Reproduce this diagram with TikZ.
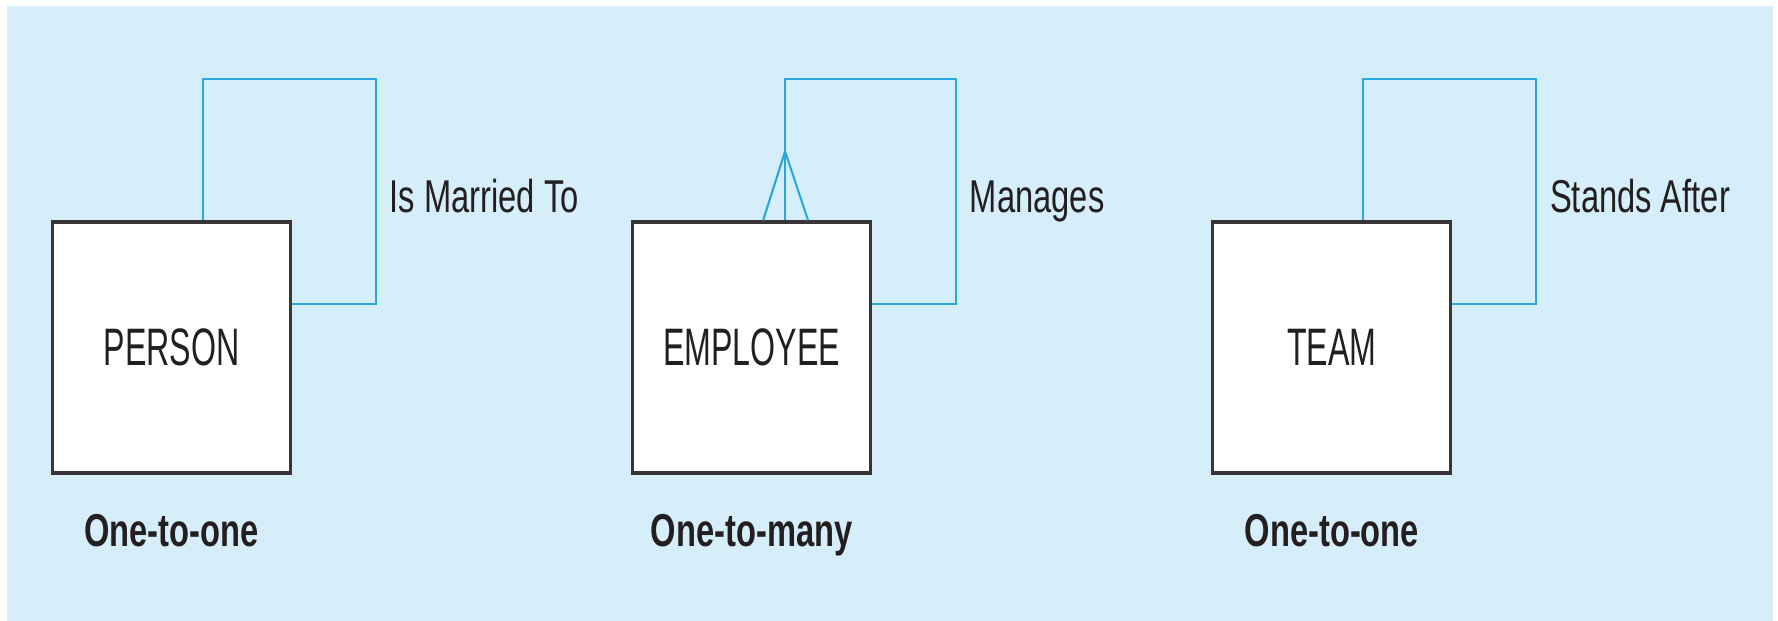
\documentclass[tikz,border=0pt]{standalone}
\usepackage{fontspec}
\usetikzlibrary{positioning}
\setmainfont{Liberation Sans}
\newfontfamily\entfont[FakeStretch=0.61]{Liberation Sans}
\newfontfamily\relfont[FakeStretch=0.71]{Liberation Sans}
\definecolor{erbg}{RGB}{214,238,250}
\definecolor{erline}{RGB}{41,168,224}
\definecolor{erink}{RGB}{35,31,32}
\begin{document}
\begin{tikzpicture}[
	entity/.style={draw=erink!90, line width=0.9pt, fill=white, minimum width=2.38cm, minimum height=2.51cm, inner sep=0pt, text=erink, font=\entfont\fontsize{15}{18}\selectfont},
	rel/.style={draw=erline, line width=0.6pt},
	rellabel/.style={anchor=base west, inner sep=0pt, text=erink, font=\relfont\fontsize{13.1}{16}\selectfont},
	card/.style={anchor=base, inner sep=0pt, text=erink, font=\relfont\bfseries\fontsize{13.1}{16}\selectfont}]
	\useasboundingbox (0,0) rectangle (17.78,6.21);
	\fill[erbg] (0.07,0) rectangle (17.73,6.15);

	\node[entity] (person) at (1.715,2.735) {PERSON};
	\node[entity, right=3.39cm of person] (employee) {EMPLOYEE};
	\node[entity, right=3.39cm of employee] (team) {TEAM};

	% recursive relationships
	\draw[rel] ([xshift=1.52cm]person.north west) -- ++(0,1.41) -| ([xshift=0.84cm,yshift=-0.84cm]person.north east) -- ([yshift=-0.84cm]person.north east);
	\draw[rel] ([xshift=1.54cm]employee.north west) -- ++(0,1.41) -| ([xshift=0.84cm,yshift=-0.84cm]employee.north east) -- ([yshift=-0.84cm]employee.north east);
	\draw[rel] ([xshift=1.52cm]team.north west) -- ++(0,1.41) -| ([xshift=0.84cm,yshift=-0.84cm]team.north east) -- ([yshift=-0.84cm]team.north east);

	% crow's foot on the many side
	\coordinate (fork) at ([xshift=1.54cm,yshift=0.69cm]employee.north west);
	\draw[rel] ([xshift=1.32cm]employee.north west) -- (fork) -- ([xshift=1.77cm]employee.north west);

	\node[rellabel] (married) at ([xshift=0.97cm,yshift=0.08cm]person.north east) {Is Married To};
	\node[rellabel] (manages) at ([xshift=0.97cm,yshift=0.08cm]employee.north east) {Manages};
	\node[rellabel] (after) at ([xshift=0.97cm,yshift=0.08cm]team.north east) {Stands After};

	\node[card] (pcard) at ([yshift=-0.72cm]person.south) {One-to-one};
	\node[card] (ecard) at ([yshift=-0.72cm]employee.south) {One-to-many};
	\node[card] (tcard) at ([yshift=-0.72cm]team.south) {One-to-one};
\end{tikzpicture}
\end{document}
